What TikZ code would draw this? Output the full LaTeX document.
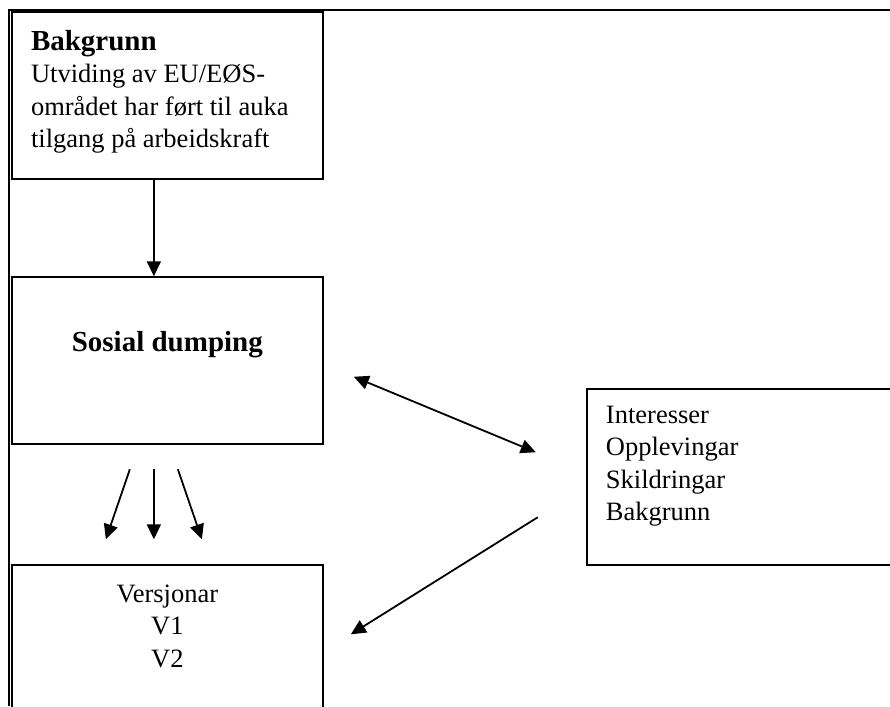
\documentclass[tikz,border=0pt]{standalone}
\usepackage{fontspec}
\setmainfont{Liberation Serif}
\usetikzlibrary{arrows.meta,calc,positioning}

\newcommand{\headword}[1]{{\fontsize{29}{32.5}\selectfont\bfseries #1}}

\begin{document}
\begin{tikzpicture}[x=1pt, y=1pt,
    >={Triangle[length=15pt,width=14pt]},
    box/.style={draw, line width=2pt, minimum width=311pt, minimum height=167pt, inner sep=0pt},
    words/.style={inner sep=0pt, font=\fontsize{26.5}{32.5}\selectfont},
    frame/.style={line width=2.7pt},
    arr/.style={line width=1.8pt, ->},
    darr/.style={line width=1.8pt, <->}]

    \coordinate (width)  at (890,0);
    \coordinate (height) at (0,706);
    \useasboundingbox (0,0) rectangle (width |- height);

    \path (0,0) -- (height)
    coordinate[pos=0.081] (Versions row)
    coordinate[pos=0.324] (Interests row)
    coordinate[pos=0.489] (Dumping row)
    coordinate[pos=0.865] (Background row)
    coordinate[pos=0.986] (frame top);

    \path (0,0) -- (width)
    coordinate[pos=0.010] (frame left)
    coordinate[pos=0.188] (left col)
    coordinate[pos=0.834] (right col);

    \draw[frame] (width |- frame top) -| (frame left);

    \node[box] (Background) at (left col |- Background row) {};
    \node[box] (Dumping)    at (left col |- Dumping row) {};
    \node[box] (Versions)   at (left col |- Versions row) {};
    \node[box, minimum height=176pt] (Interests) at (right col |- Interests row) {};

    \node[words, align=left, below right=19pt and 20pt of Background.north west] (Background text)
      {\headword{Bakgrunn}\\Utviding av EU/EØS-\\området har ført til auka\\tilgang på arbeidskraft};
    \node[words, below=55pt of Dumping.north] (Dumping text) {\headword{Sosial dumping}};
    \node[words, align=center, below=20pt of Versions.north] (Versions text) {Versjonar\\V1\\V2};
    \node[words, align=left, below right=17.5pt and 20pt of Interests.north west] (Interests text)
      {Interesser\\Opplevingar\\Skildringar\\Bakgrunn};

    \path (Background.south west) -- (Background.south east)
    coordinate[pos=0.457] (Background exit);
    \draw[arr] (Background exit) -- (Background exit |- Dumping.north);

    \coordinate (fan top)    at ($(Background exit |- Dumping.south) + (0,-24)$);
    \coordinate (fan bottom) at ($(Background exit |- Versions.north) + (0,25)$);

    \foreach \x/\d in {1/-1, 2/0, 3/1} {
      \coordinate (fan \x start) at ($(fan top) + (24*\d,0)$);
      \coordinate (fan \x end)   at ($(fan bottom) + (48*\d,0)$);
    }

    \foreach \x in {1,2,3}
    \draw[arr] (fan \x start) -- (fan \x end);

    \coordinate (link top)    at ($(Dumping.east) + (30,-16)$);
    \coordinate (link right)  at ($(Interests.west) + (-50,25)$);
    \coordinate (link low)    at ($(Interests.west) + (-48,-40)$);
    \coordinate (link bottom) at ($(Versions.north east) + (27,-70)$);

    \draw[darr] (link top) -- (link right);
    \draw[arr]  (link low) -- (link bottom);
  \end{tikzpicture}
\end{document}
